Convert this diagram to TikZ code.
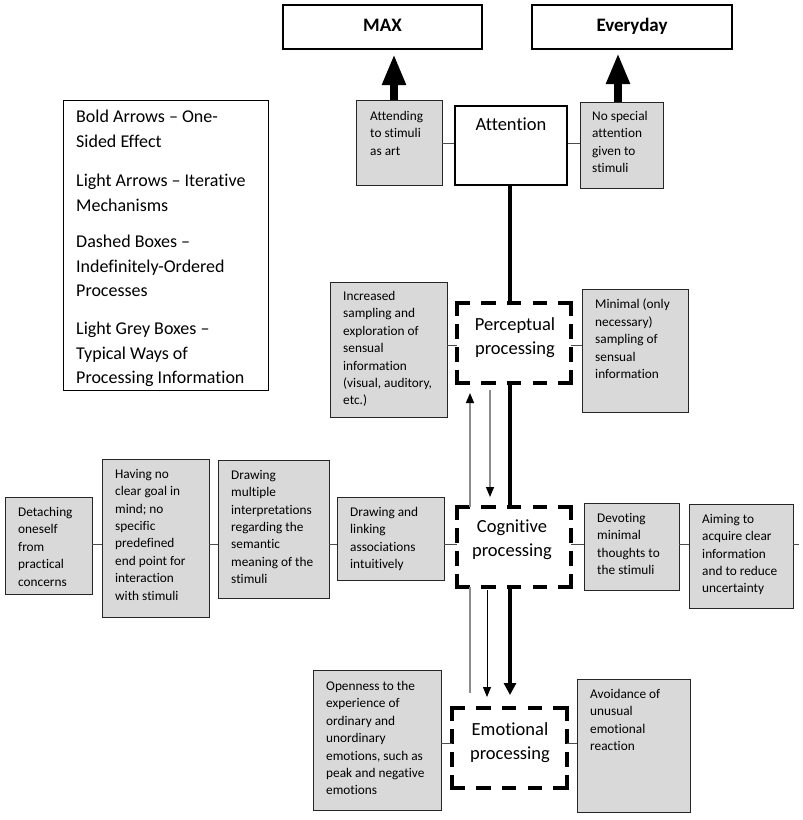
\documentclass[tikz,border=0pt]{standalone}
\usepackage{fontspec}
\setmainfont{Carlito}[Ligatures={NoCommon}]
\usetikzlibrary{arrows.meta,fit}
\definecolor{boxgrey}{RGB}{217,217,217}
\definecolor{lightline}{RGB}{140,140,140}
\begin{document}
\begin{tikzpicture}[x=1pt,y=-1pt,
  greybox/.style={draw=black!85, line width=0.9pt, fill=boxgrey, inner sep=0pt},
  whitebox/.style={draw=black, line width=1.2pt, fill=white, inner sep=0pt},
  headbox/.style={draw=black, line width=2pt, fill=white, inner sep=0pt},
  procbox/.style={inner sep=0pt, outer sep=0pt},
  legbox/.style={draw=black, line width=1pt, inner sep=0pt},
  boxtext/.style={anchor=north west, inner sep=0pt, align=left, font=\fontsize{13.3}{17.4}\selectfont},
  legtext/.style={anchor=north west, inner sep=0pt, align=left, font=\fontsize{18}{24.5}\selectfont},
  titletext/.style={inner sep=0pt, align=center, font=\fontsize{18.5}{24}\selectfont},
  headtext/.style={inner sep=0pt, anchor=base, font=\fontsize{19}{22}\selectfont\bfseries},
  dsideh/.style={line width=3.5pt, dash pattern=on 11pt off 14.75pt, line cap=rect},
  dsidev/.style={line width=3.5pt, dash pattern=on 11pt off 12pt, line cap=rect},
  conn/.style={draw=black!70, line width=0.8pt},
  boldline/.style={line width=4pt},
  bigarrow/.style={line width=8pt, -{Triangle[width=22pt 0 0,length=31pt 0 0]}},
  boldarrow/.style={line width=4pt, -{Triangle[width=12pt 0 0,length=12pt 0 0]}},
  lightarrow/.style={draw=lightline, line width=1.2pt, -{Triangle[width=8pt 0 0,length=10pt 0 0,color=black]}},
  thinarrow/.style={draw=black, line width=0.9pt, -{Triangle[width=8pt 0 0,length=10pt 0 0]}},
  lightline/.style={draw=lightline, line width=1.2pt}
]
\useasboundingbox (0,0) rectangle (803,820);

% ---------- top row
\node[headbox, fit={(283,5) (482,49)}] (max) {};
\node[headtext] (maxt) at (382.5,31) {MAX};
\node[headbox, fit={(532,5) (732,49)}] (every) {};
\node[headtext] (everyt) at (632,31) {Everyday};

\node[greybox, fit={(356,100) (442,185)}] (attending) {};
\node[boxtext] (attendingt) at (370,111) {Attending\\to stimuli\\as art};
\node[whitebox, fit={(455,106) (567,185)}] (attention) {};
\node[titletext, anchor=base] (attentiont) at (511,130) {Attention};
\node[greybox, fit={(580,102) (663,188)}] (nospecial) {};
\node[boxtext] (nospecialt) at (592,111) {No special\\attention\\given to\\stimuli};

% ---------- legend
\node[legbox, fit={(63,100) (268,390)}] (legend) {};
\node[legtext] (leg1) at (76,110) {Bold Arrows -- One-\\Sided Effect};
\node[legtext] (leg2) at (76,174) {Light Arrows -- Iterative\\Mechanisms};
\node[legtext] (leg3) at (76,235) {Dashed Boxes --\\Indefinitely-Ordered\\Processes};
\node[legtext] (leg4) at (76,322) {Light Grey Boxes --\\Typical Ways of\\Processing Information};

% ---------- perceptual row
\node[greybox, fit={(330,282) (447,417)}] (incr) {};
\node[boxtext] (incrt) at (343,291) {Increased\\sampling and\\exploration of\\sensual\\information\\(visual, auditory,\\etc.)};
\node[procbox, fit={(457,303) (571,383)}] (perc) {};
\node[titletext] (perct) at (515,338) {Perceptual\\processing};
\node[greybox, fit={(582,289) (688,412)}] (minimal) {};
\node[boxtext] (minimalt) at (595,299) {Minimal (only\\necessary)\\sampling of\\sensual\\information};

% ---------- cognitive row
\node[greybox, fit={(5,497) (92,594)}] (det) {};
\node[boxtext] (dett) at (18,507) {Detaching\\oneself\\from\\practical\\concerns};
\node[greybox, fit={(102,459) (209,617)}] (having) {};
\node[boxtext] (havingt) at (115,469) {Having no\\clear goal in\\mind; no\\specific\\predefined\\end point for\\interaction\\with stimuli};
\node[greybox, fit={(218,460) (329,598)}] (drawmult) {};
\node[boxtext] (drawmultt) at (231,470) {Drawing\\multiple\\interpretations\\regarding the\\semantic\\meaning of the\\stimuli};
\node[greybox, fit={(337,497) (444,580)}] (drawlink) {};
\node[boxtext] (drawlinkt) at (350,507) {Drawing and\\linking\\associations\\intuitively};
\node[procbox, fit={(457,507) (571,587)}] (cog) {};
\node[titletext] (cogt) at (512,540) {Cognitive\\processing};
\node[greybox, fit={(584,503) (679,590)}] (devote) {};
\node[boxtext] (devotet) at (597,513) {Devoting\\minimal\\thoughts to\\the stimuli};
\node[greybox, fit={(689,504) (793,608)}] (aim) {};
\node[boxtext] (aimt) at (702,514) {Aiming to\\acquire clear\\information\\and to reduce\\uncertainty};

% ---------- emotional row
\node[greybox, fit={(313,670) (441,810)}] (open) {};
\node[boxtext] (opent) at (326,681) {Openness to the\\experience of\\ordinary and\\unordinary\\emotions, such as\\peak and negative\\emotions};
\node[procbox, fit={(452,708) (567,788)}] (emo) {};
\node[titletext] (emot) at (510,743) {Emotional\\processing};
\node[greybox, fit={(577,679) (690,812)}] (avoid) {};
\node[boxtext] (avoidt) at (590,689) {Avoidance of\\unusual\\emotional\\reaction};

% ---------- dashed process boxes
\foreach \b in {perc,cog,emo}{
  \draw[dsideh] (\b.north west) -- (\b.north east);
  \draw[dsideh] (\b.south west) -- (\b.south east);
  \draw[dsidev] (\b.north west) -- (\b.south west);
  \draw[dsidev] (\b.north east) -- (\b.south east);
}

% ---------- helper coordinates
\coordinate (mx) at (394,0);
\coordinate (ex) at (618,0);
\coordinate (bx) at (510,0);
\coordinate (ux) at (470,0);
\coordinate (dx) at (490,0);
\coordinate (dxb) at (487,0);
\coordinate (ra) at (0,143);
\coordinate (rp) at (0,345);
\coordinate (rc) at (0,544);
\coordinate (re) at (0,743);
\coordinate (stub) at (799,544);

% ---------- connectors
\draw[conn] (attending.east |- ra) -- (attention.west |- ra);
\draw[conn] (attention.east |- ra) -- (nospecial.west |- ra);
\draw[conn] (incr.east |- rp) -- (perc.west |- rp);
\draw[conn] (perc.east |- rp) -- (minimal.west |- rp);
\draw[conn] (det.east |- rc) -- (having.west |- rc);
\draw[conn] (having.east |- rc) -- (drawmult.west |- rc);
\draw[conn] (drawmult.east |- rc) -- (drawlink.west |- rc);
\draw[conn] (drawlink.east |- rc) -- (cog.west |- rc);
\draw[conn] (cog.east |- rc) -- (devote.west |- rc);
\draw[conn] (devote.east |- rc) -- (aim.west |- rc);
\draw[conn] (aim.east |- rc) -- (stub);
\draw[conn] (open.east |- re) -- (emo.west |- re);
\draw[conn] (emo.east |- re) -- (avoid.west |- re);

% ---------- arrows
\draw[bigarrow, shorten >=4pt] (attending.north -| mx) -- (max.south -| mx);
\draw[bigarrow, shorten >=3pt] (nospecial.north -| ex) -- (every.south -| ex);
\draw[boldline] (attention.south -| bx) -- (perc.north -| bx);
\draw[boldline] (perc.south -| bx) -- (cog.north -| bx);
\draw[boldarrow, shorten >=13pt] (cog.south -| bx) -- (emo.north -| bx);
\draw[lightarrow, shorten >=10pt] (cog.north -| ux) -- (perc.south -| ux);
\draw[lightarrow, shorten <=7pt, shorten >=10pt] (perc.south -| dx) -- (cog.north -| dx);
\draw[lightline, shorten >=15pt] (cog.south -| ux) -- (emo.north -| ux);
\draw[thinarrow, shorten <=3pt, shorten >=11pt] (cog.south -| dxb) -- (emo.north -| dxb);
\end{tikzpicture}
\end{document}
